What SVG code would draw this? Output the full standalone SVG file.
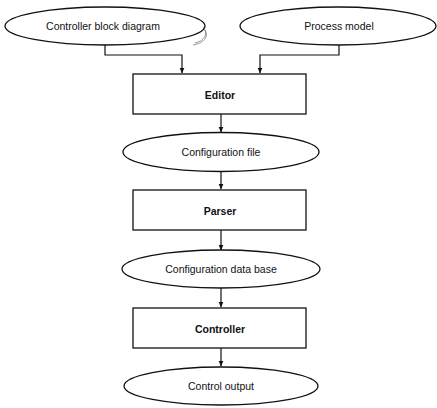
<svg xmlns="http://www.w3.org/2000/svg" width="437" height="408" viewBox="0 0 437 408">
<defs>
<marker id="ah" markerWidth="6" markerHeight="8" refX="5.5" refY="3" orient="auto" markerUnits="userSpaceOnUse">
<path d="M0,0.5 L6,3 L0,5.5 Z" fill="#111"/>
</marker>
</defs>
<style>
.shape{fill:#fff;stroke:#111;stroke-width:1.3}
.lbl{font-family:"Liberation Sans",Arial,sans-serif;font-size:10.5px;fill:#111;text-anchor:middle;dominant-baseline:central}
.b{font-weight:bold}
.con{fill:none;stroke:#111;stroke-width:1.2;marker-end:url(#ah)}
</style>
<rect width="437" height="408" fill="#fff"/>
<g id="connectors">
<path class="con" d="M105,45 V55 H182 V73"/>
<path class="con" d="M339,45 V55 H260 V73"/>
<path class="con" d="M221,114 V132"/>
<path class="con" d="M221,171 V189"/>
<path class="con" d="M221,230 V250"/>
<path class="con" d="M221,288 V307"/>
<path class="con" d="M221,348 V366"/>
</g>
<g id="controller-block-diagram">
<ellipse class="shape" cx="105" cy="26" rx="100" ry="19"/>
<text class="lbl" x="103" y="26">Controller block diagram</text>
<path d="M203,27 C208,33 206,40 195,43 M205,30 C209,37 204,43 193,45" fill="none" stroke="#555" stroke-width="0.6"/>
</g>
<g id="process-model">
<ellipse class="shape" cx="338" cy="26" rx="98" ry="19"/>
<text class="lbl" x="339" y="26">Process model</text>
</g>
<g id="editor">
<rect class="shape" x="133" y="74" width="173" height="40"/>
<text class="lbl b" x="220" y="95">Editor</text>
</g>
<g id="configuration-file">
<ellipse class="shape" cx="221" cy="152" rx="98" ry="19.5"/>
<text class="lbl" x="221" y="152">Configuration file</text>
</g>
<g id="parser">
<rect class="shape" x="133" y="190" width="173" height="40"/>
<text class="lbl b" x="220" y="211">Parser</text>
</g>
<g id="configuration-data-base">
<ellipse class="shape" cx="221" cy="269" rx="99" ry="19"/>
<text class="lbl" x="221" y="269">Configuration data base</text>
</g>
<g id="controller">
<rect class="shape" x="133" y="308" width="173" height="40"/>
<text class="lbl b" x="220" y="329">Controller</text>
</g>
<g id="control-output">
<ellipse class="shape" cx="221" cy="386" rx="97" ry="19"/>
<text class="lbl" x="221" y="386">Control output</text>
</g>
</svg>
